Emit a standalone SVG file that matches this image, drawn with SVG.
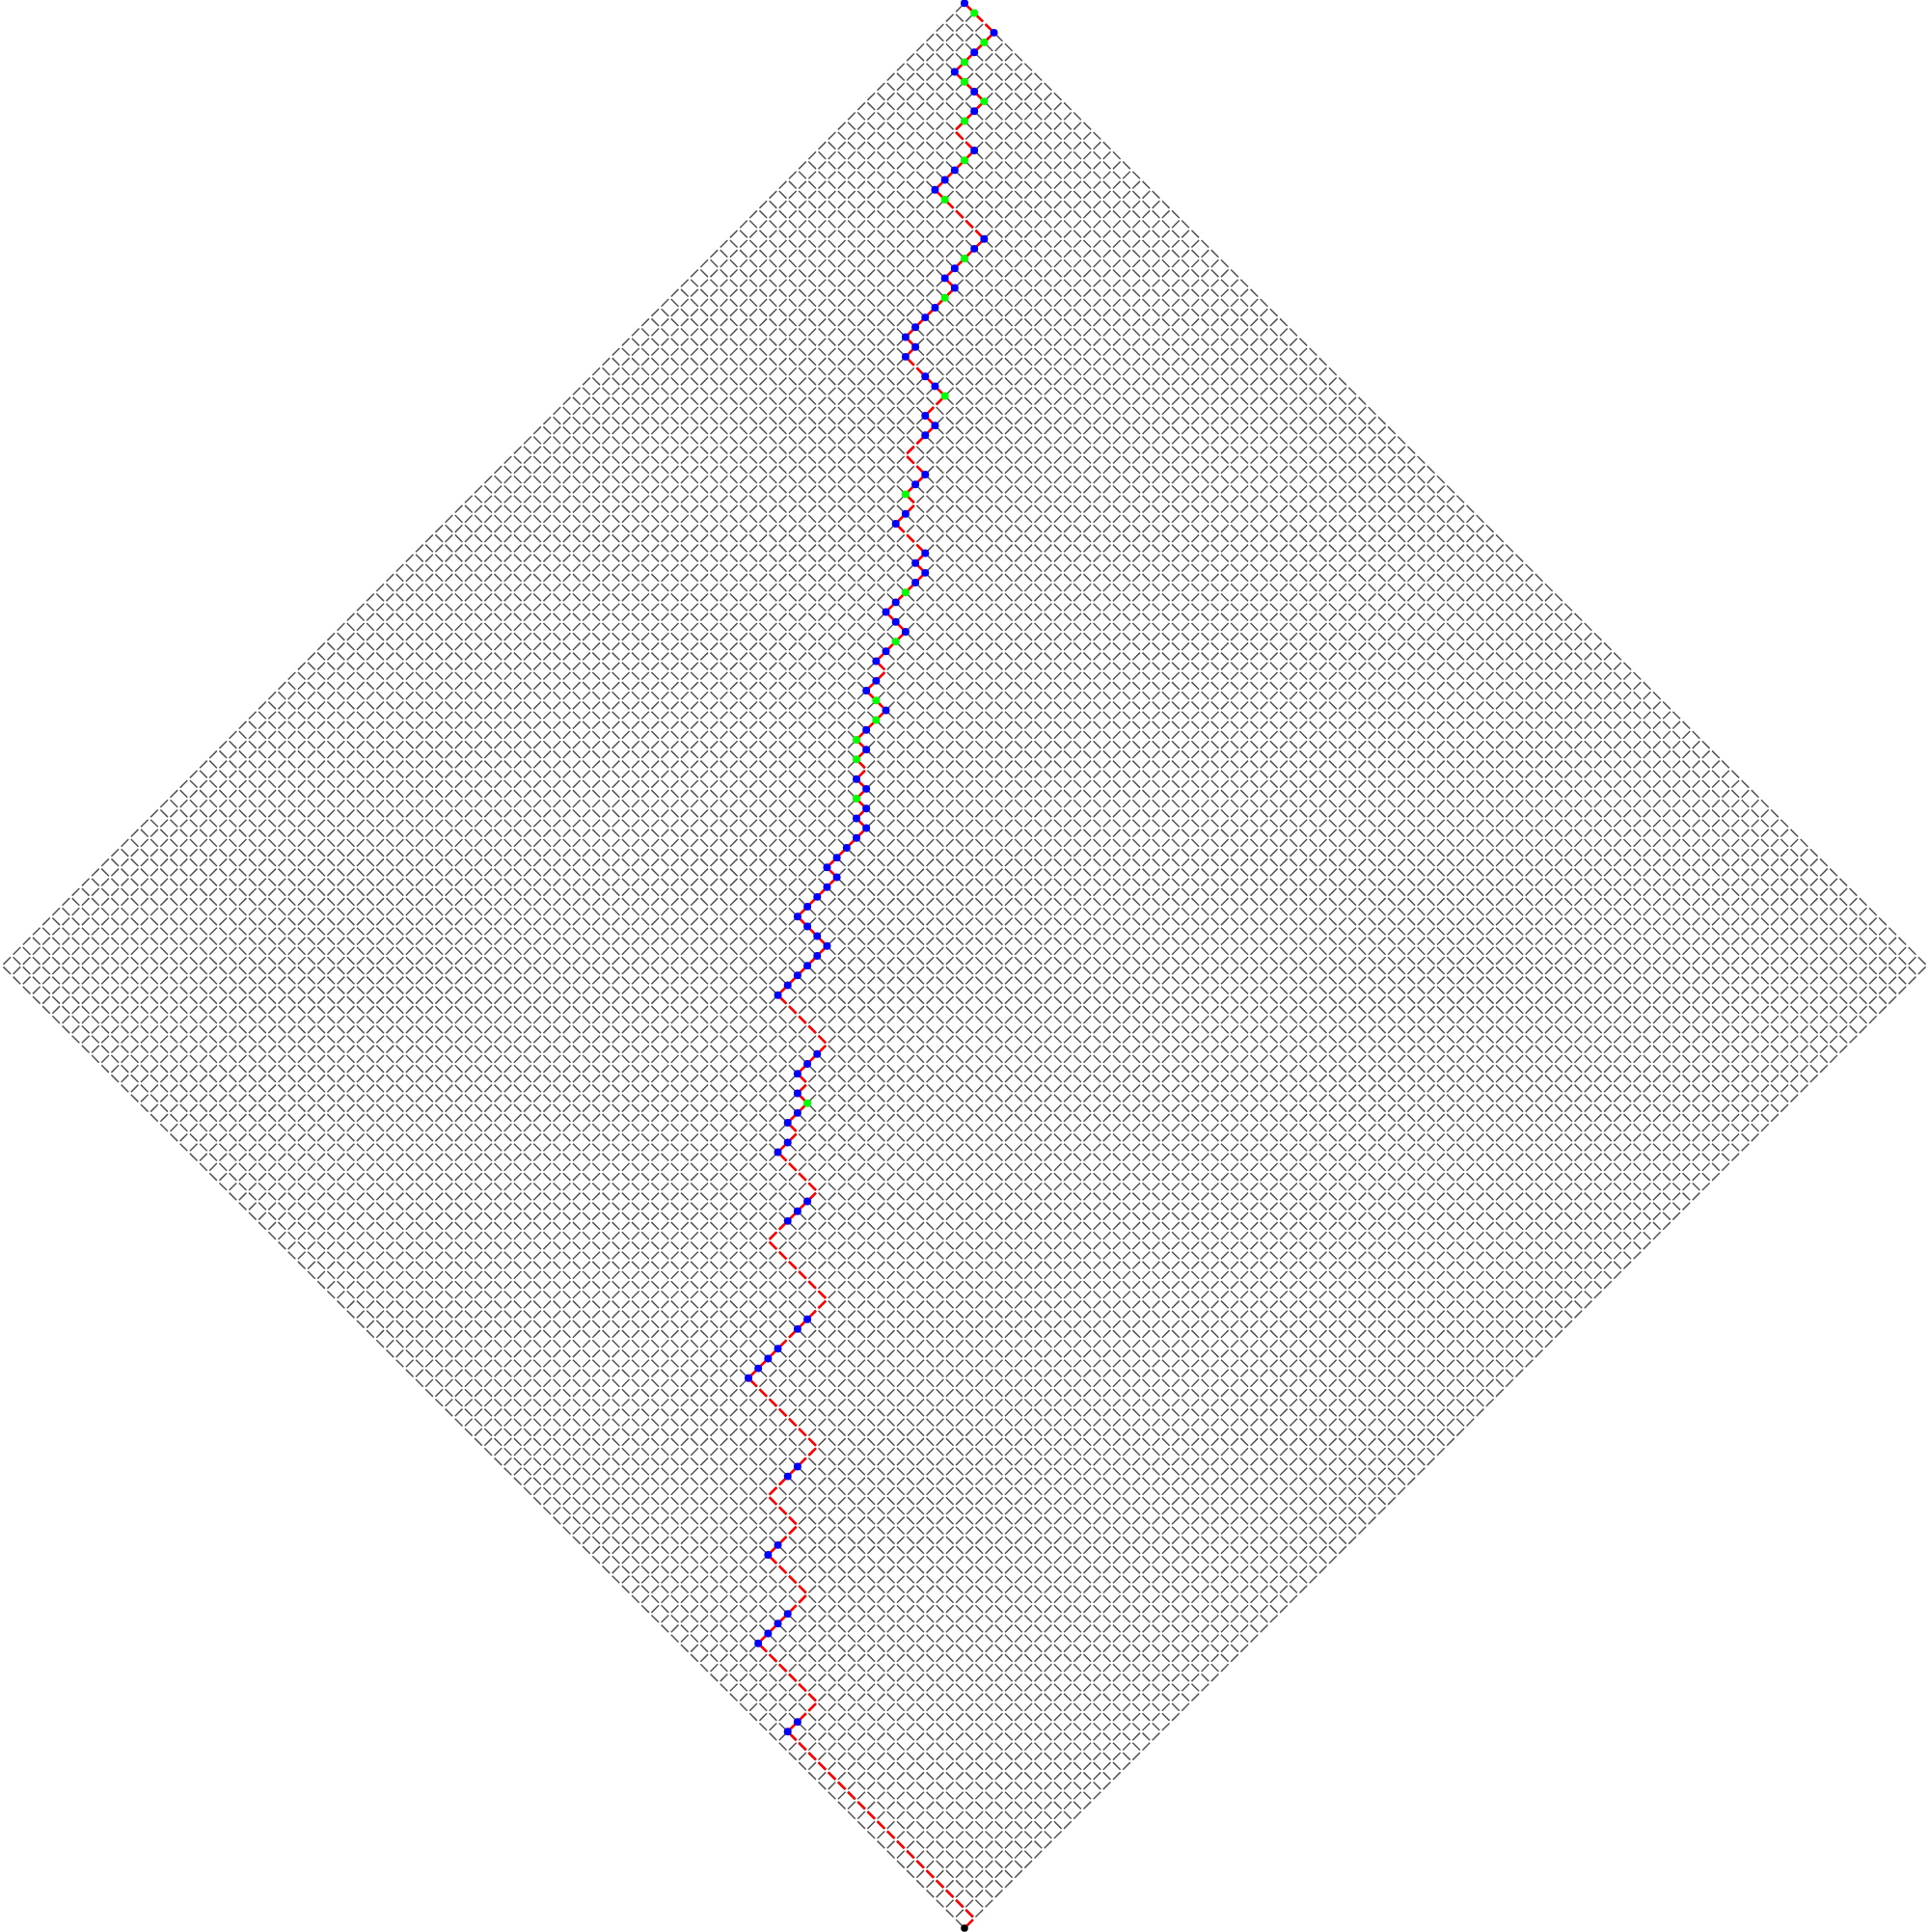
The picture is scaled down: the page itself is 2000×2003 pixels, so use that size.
<svg xmlns="http://www.w3.org/2000/svg" width="2000" height="2003" viewBox="0 0 2000 2003">
<style>
.grid{fill:none;stroke:#555;stroke-width:0.15;stroke-dasharray:1.06 0.354214;stroke-dashoffset:1.237107}
.walk{fill:none;stroke:#f00;stroke-width:0.26;stroke-dasharray:1.06 0.354214;stroke-dashoffset:1.237107;stroke-linejoin:round}
.b{fill:#00f}
.g{fill:#0f0}
.k{fill:#000}
</style>
<rect width="2000" height="2003" fill="#fff"/>
<g transform="translate(1000,3.3) scale(10.182)">
<g id="grid">
<path class="grid" d="M0 0l98 98M-1 1l98 98M-2 2l98 98M-3 3l98 98M-4 4l98 98M-5 5l98 98M-6 6l98 98M-7 7l98 98M-8 8l98 98M-9 9l98 98M-10 10l98 98M-11 11l98 98M-12 12l98 98M-13 13l98 98M-14 14l98 98M-15 15l98 98M-16 16l98 98M-17 17l98 98M-18 18l98 98M-19 19l98 98M-20 20l98 98M-21 21l98 98M-22 22l98 98M-23 23l98 98M-24 24l98 98M-25 25l98 98M-26 26l98 98M-27 27l98 98M-28 28l98 98M-29 29l98 98M-30 30l98 98M-31 31l98 98M-32 32l98 98M-33 33l98 98M-34 34l98 98M-35 35l98 98M-36 36l98 98M-37 37l98 98M-38 38l98 98M-39 39l98 98M-40 40l98 98M-41 41l98 98M-42 42l98 98M-43 43l98 98M-44 44l98 98M-45 45l98 98M-46 46l98 98M-47 47l98 98M-48 48l98 98M-49 49l98 98M-50 50l98 98M-51 51l98 98M-52 52l98 98M-53 53l98 98M-54 54l98 98M-55 55l98 98M-56 56l98 98M-57 57l98 98M-58 58l98 98M-59 59l98 98M-60 60l98 98M-61 61l98 98M-62 62l98 98M-63 63l98 98M-64 64l98 98M-65 65l98 98M-66 66l98 98M-67 67l98 98M-68 68l98 98M-69 69l98 98M-70 70l98 98M-71 71l98 98M-72 72l98 98M-73 73l98 98M-74 74l98 98M-75 75l98 98M-76 76l98 98M-77 77l98 98M-78 78l98 98M-79 79l98 98M-80 80l98 98M-81 81l98 98M-82 82l98 98M-83 83l98 98M-84 84l98 98M-85 85l98 98M-86 86l98 98M-87 87l98 98M-88 88l98 98M-89 89l98 98M-90 90l98 98M-91 91l98 98M-92 92l98 98M-93 93l98 98M-94 94l98 98M-95 95l98 98M-96 96l98 98M-97 97l98 98M-98 98l98 98"/>
<path class="grid" d="M0 0l-98 98M1 1l-98 98M2 2l-98 98M3 3l-98 98M4 4l-98 98M5 5l-98 98M6 6l-98 98M7 7l-98 98M8 8l-98 98M9 9l-98 98M10 10l-98 98M11 11l-98 98M12 12l-98 98M13 13l-98 98M14 14l-98 98M15 15l-98 98M16 16l-98 98M17 17l-98 98M18 18l-98 98M19 19l-98 98M20 20l-98 98M21 21l-98 98M22 22l-98 98M23 23l-98 98M24 24l-98 98M25 25l-98 98M26 26l-98 98M27 27l-98 98M28 28l-98 98M29 29l-98 98M30 30l-98 98M31 31l-98 98M32 32l-98 98M33 33l-98 98M34 34l-98 98M35 35l-98 98M36 36l-98 98M37 37l-98 98M38 38l-98 98M39 39l-98 98M40 40l-98 98M41 41l-98 98M42 42l-98 98M43 43l-98 98M44 44l-98 98M45 45l-98 98M46 46l-98 98M47 47l-98 98M48 48l-98 98M49 49l-98 98M50 50l-98 98M51 51l-98 98M52 52l-98 98M53 53l-98 98M54 54l-98 98M55 55l-98 98M56 56l-98 98M57 57l-98 98M58 58l-98 98M59 59l-98 98M60 60l-98 98M61 61l-98 98M62 62l-98 98M63 63l-98 98M64 64l-98 98M65 65l-98 98M66 66l-98 98M67 67l-98 98M68 68l-98 98M69 69l-98 98M70 70l-98 98M71 71l-98 98M72 72l-98 98M73 73l-98 98M74 74l-98 98M75 75l-98 98M76 76l-98 98M77 77l-98 98M78 78l-98 98M79 79l-98 98M80 80l-98 98M81 81l-98 98M82 82l-98 98M83 83l-98 98M84 84l-98 98M85 85l-98 98M86 86l-98 98M87 87l-98 98M88 88l-98 98M89 89l-98 98M90 90l-98 98M91 91l-98 98M92 92l-98 98M93 93l-98 98M94 94l-98 98M95 95l-98 98M96 96l-98 98M97 97l-98 98M98 98l-98 98"/>
</g>
<g id="connectors">
<path id="walk" class="walk" d="M0 0l3 3l-4 4l3 3l-3 3l2 2l-4 4l5 5l-4 4l1 1l-5 5l1 1l-1 1l4 4l-2 2l1 1l-3 3l2 2l-2 2l1 1l-2 2l3 3l-1 1l1 1l-4 4l2 2l-3 3l1 1l-2 2l2 2l-3 3l1 1l-1 1l1 1l-1 1l1 1l-1 1l1 1l-1 1l1 1l-4 4l1 1l-4 4l3 3l-5 5l5 5l-3 3l1 1l-1 1l1 1l-2 2l1 1l-2 2l4 4l-5 5l6 6l-8 8l7 7l-5 5l3 3l-3 3l4 4l-5 5l6 6l-3 3l19 19l-1 1"/>
</g>
<g id="nodes">
<circle class="b" cx="0" cy="0" r=".39"/>
<circle class="g" cx="1" cy="1" r=".39"/>
<circle class="b" cx="3" cy="3" r=".39"/>
<circle class="g" cx="2" cy="4" r=".39"/>
<circle class="b" cx="1" cy="5" r=".39"/>
<circle class="g" cx="0" cy="6" r=".39"/>
<circle class="b" cx="-1" cy="7" r=".39"/>
<circle class="g" cx="0" cy="8" r=".39"/>
<circle class="b" cx="1" cy="9" r=".39"/>
<circle class="g" cx="2" cy="10" r=".39"/>
<circle class="b" cx="1" cy="11" r=".39"/>
<circle class="g" cx="0" cy="12" r=".39"/>
<circle class="b" cx="1" cy="15" r=".39"/>
<circle class="g" cx="0" cy="16" r=".39"/>
<circle class="b" cx="-1" cy="17" r=".39"/>
<circle class="b" cx="-2" cy="18" r=".39"/>
<circle class="b" cx="-3" cy="19" r=".39"/>
<circle class="g" cx="-2" cy="20" r=".39"/>
<circle class="b" cx="2" cy="24" r=".39"/>
<circle class="b" cx="1" cy="25" r=".39"/>
<circle class="g" cx="0" cy="26" r=".39"/>
<circle class="b" cx="-1" cy="27" r=".39"/>
<circle class="b" cx="-2" cy="28" r=".39"/>
<circle class="b" cx="-1" cy="29" r=".39"/>
<circle class="g" cx="-2" cy="30" r=".39"/>
<circle class="b" cx="-3" cy="31" r=".39"/>
<circle class="b" cx="-4" cy="32" r=".39"/>
<circle class="b" cx="-5" cy="33" r=".39"/>
<circle class="b" cx="-6" cy="34" r=".39"/>
<circle class="b" cx="-5" cy="35" r=".39"/>
<circle class="b" cx="-6" cy="36" r=".39"/>
<circle class="b" cx="-4" cy="38" r=".39"/>
<circle class="b" cx="-3" cy="39" r=".39"/>
<circle class="g" cx="-2" cy="40" r=".39"/>
<circle class="b" cx="-4" cy="42" r=".39"/>
<circle class="b" cx="-3" cy="43" r=".39"/>
<circle class="b" cx="-4" cy="44" r=".39"/>
<circle class="b" cx="-4" cy="48" r=".39"/>
<circle class="b" cx="-5" cy="49" r=".39"/>
<circle class="g" cx="-6" cy="50" r=".39"/>
<circle class="b" cx="-6" cy="52" r=".39"/>
<circle class="b" cx="-7" cy="53" r=".39"/>
<circle class="b" cx="-4" cy="56" r=".39"/>
<circle class="b" cx="-5" cy="57" r=".39"/>
<circle class="b" cx="-4" cy="58" r=".39"/>
<circle class="b" cx="-5" cy="59" r=".39"/>
<circle class="g" cx="-6" cy="60" r=".39"/>
<circle class="b" cx="-7" cy="61" r=".39"/>
<circle class="b" cx="-8" cy="62" r=".39"/>
<circle class="b" cx="-7" cy="63" r=".39"/>
<circle class="b" cx="-6" cy="64" r=".39"/>
<circle class="g" cx="-7" cy="65" r=".39"/>
<circle class="b" cx="-8" cy="66" r=".39"/>
<circle class="b" cx="-9" cy="67" r=".39"/>
<circle class="b" cx="-9" cy="69" r=".39"/>
<circle class="b" cx="-10" cy="70" r=".39"/>
<circle class="g" cx="-9" cy="71" r=".39"/>
<circle class="b" cx="-8" cy="72" r=".39"/>
<circle class="g" cx="-9" cy="73" r=".39"/>
<circle class="b" cx="-10" cy="74" r=".39"/>
<circle class="g" cx="-11" cy="75" r=".39"/>
<circle class="b" cx="-10" cy="76" r=".39"/>
<circle class="g" cx="-11" cy="77" r=".39"/>
<circle class="b" cx="-11" cy="79" r=".39"/>
<circle class="b" cx="-10" cy="80" r=".39"/>
<circle class="g" cx="-11" cy="81" r=".39"/>
<circle class="b" cx="-10" cy="82" r=".39"/>
<circle class="b" cx="-11" cy="83" r=".39"/>
<circle class="b" cx="-10" cy="84" r=".39"/>
<circle class="b" cx="-11" cy="85" r=".39"/>
<circle class="b" cx="-12" cy="86" r=".39"/>
<circle class="b" cx="-13" cy="87" r=".39"/>
<circle class="b" cx="-14" cy="88" r=".39"/>
<circle class="b" cx="-13" cy="89" r=".39"/>
<circle class="b" cx="-14" cy="90" r=".39"/>
<circle class="b" cx="-15" cy="91" r=".39"/>
<circle class="b" cx="-16" cy="92" r=".39"/>
<circle class="b" cx="-17" cy="93" r=".39"/>
<circle class="b" cx="-16" cy="94" r=".39"/>
<circle class="b" cx="-15" cy="95" r=".39"/>
<circle class="b" cx="-14" cy="96" r=".39"/>
<circle class="b" cx="-15" cy="97" r=".39"/>
<circle class="b" cx="-16" cy="98" r=".39"/>
<circle class="b" cx="-17" cy="99" r=".39"/>
<circle class="b" cx="-18" cy="100" r=".39"/>
<circle class="b" cx="-19" cy="101" r=".39"/>
<circle class="b" cx="-15" cy="107" r=".39"/>
<circle class="b" cx="-16" cy="108" r=".39"/>
<circle class="b" cx="-17" cy="109" r=".39"/>
<circle class="b" cx="-17" cy="111" r=".39"/>
<circle class="g" cx="-16" cy="112" r=".39"/>
<circle class="b" cx="-17" cy="113" r=".39"/>
<circle class="b" cx="-18" cy="114" r=".39"/>
<circle class="b" cx="-18" cy="116" r=".39"/>
<circle class="b" cx="-19" cy="117" r=".39"/>
<circle class="b" cx="-16" cy="122" r=".39"/>
<circle class="b" cx="-17" cy="123" r=".39"/>
<circle class="b" cx="-18" cy="124" r=".39"/>
<circle class="b" cx="-16" cy="134" r=".39"/>
<circle class="b" cx="-17" cy="135" r=".39"/>
<circle class="b" cx="-19" cy="137" r=".39"/>
<circle class="b" cx="-20" cy="138" r=".39"/>
<circle class="b" cx="-21" cy="139" r=".39"/>
<circle class="b" cx="-22" cy="140" r=".39"/>
<circle class="b" cx="-17" cy="149" r=".39"/>
<circle class="b" cx="-18" cy="150" r=".39"/>
<circle class="b" cx="-19" cy="157" r=".39"/>
<circle class="b" cx="-20" cy="158" r=".39"/>
<circle class="b" cx="-18" cy="164" r=".39"/>
<circle class="b" cx="-19" cy="165" r=".39"/>
<circle class="b" cx="-20" cy="166" r=".39"/>
<circle class="b" cx="-21" cy="167" r=".39"/>
<circle class="b" cx="-17" cy="175" r=".39"/>
<circle class="b" cx="-18" cy="176" r=".39"/>
<circle class="k" cx="0" cy="196" r=".37"/>
</g>
</g>
</svg>
